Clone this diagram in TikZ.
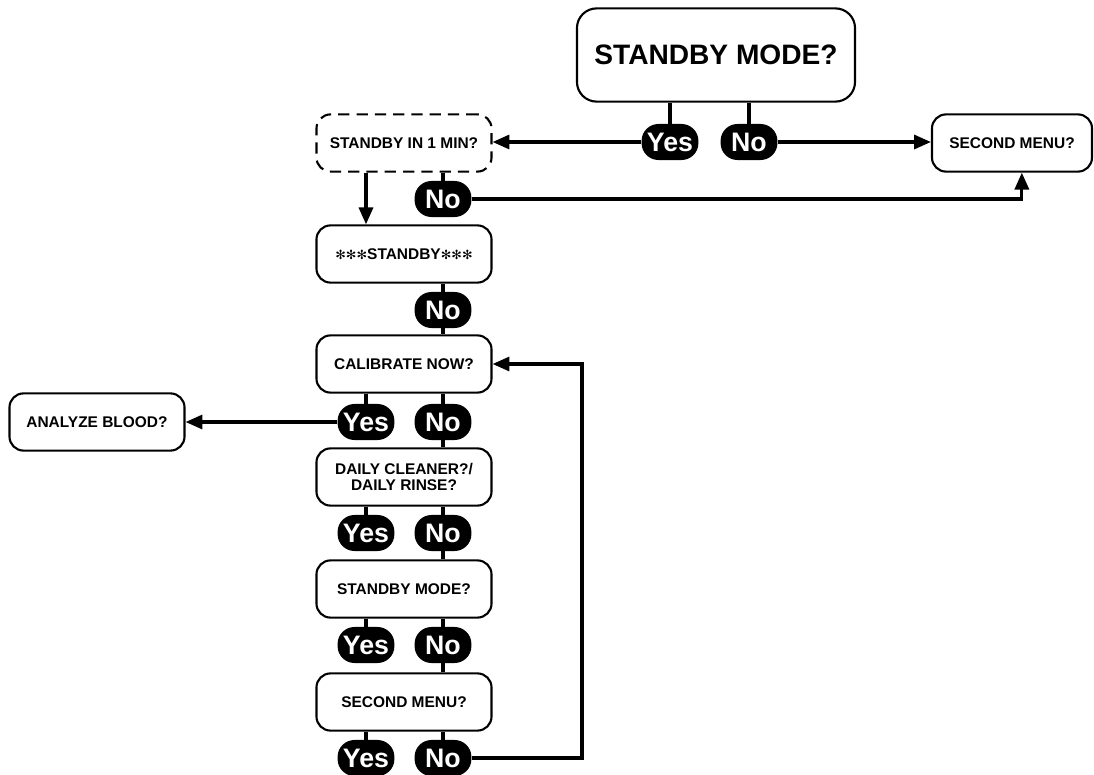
\documentclass[tikz,border=0pt]{standalone}
\usepackage{fontspec}
\setmainfont{Liberation Sans}
\newfontfamily\symfont{DejaVu Sans}
\usetikzlibrary{arrows.meta}

\newcommand{\stars}{{\symfont\fontsize{9}{9}\selectfont ✻✻✻}}

\tikzset{
  menubox/.style={draw,line width=1.5pt,rounded corners=10pt,fill=white,
    minimum width=4.375cm,minimum height=1.43cm,align=center,
    font=\fontsize{11}{12}\selectfont\bfseries},
  waitbox/.style={menubox,dashed,dash pattern=on 8pt off 5pt},
  pill/.style={fill=black,text=white,rounded corners=12pt,inner sep=1pt,
    minimum width=1.42cm,minimum height=0.9cm,
    font=\fontsize{19}{19}\selectfont\bfseries},
  link/.style={line width=2.2pt},
}

\begin{document}
\begin{tikzpicture}[x=0.025cm,y=-0.025cm,>={Triangle[length=12pt,width=10pt]}]
\useasboundingbox (0,0) rectangle (1094,775);
% main column
\node[menubox,font=\fontsize{20}{22}\selectfont\bfseries,minimum width=6.95cm,
  minimum height=2.33cm,rounded corners=14pt] (top) at (716,55) {STANDBY MODE?};
\node[waitbox] (wait) at (404,143) {STANDBY IN 1 MIN?};
\node[menubox,minimum width=4.0cm] (second) at (1012,143) {SECOND MENU?};
\node[menubox] (stby) at (404,254) {\stars STANDBY\stars};
\node[menubox] (calib) at (404,364) {CALIBRATE NOW?};
\node[menubox] (blood) at (97,422) {ANALYZE BLOOD?};
\node[menubox] (daily) at (404,477) {DAILY CLEANER?/\\[-1pt]DAILY RINSE?};
\node[menubox] (mode) at (404,589) {STANDBY MODE?};
\node[menubox] (menu) at (404,702) {SECOND MENU?};
\coordinate (loop) at (582,364);

% answers
\node[pill] (tyes) at (670,142) {Yes};
\node[pill] (tno) at (749,142) {No};
\node[pill] (wno) at (443,199) {No};
\node[pill] (sno) at (443,310) {No};
\node[pill] (cyes) at (366,422) {Yes};
\node[pill] (cno) at (443,422) {No};
\node[pill] (dyes) at (366,533) {Yes};
\node[pill] (dno) at (443,533) {No};
\node[pill] (myes) at (366,645) {Yes};
\node[pill] (mno) at (443,645) {No};
\node[pill] (uyes) at (366,758) {Yes};
\node[pill] (uno) at (443,758) {No};

% connectors
\draw[link] (top.south -| tyes) -- (tyes.north);
\draw[link] (top.south -| tno) -- (tno.north);
\draw[link,->] (tyes.west) -- (tyes.west -| wait.east);
\draw[link,->] (tno.east) -- (tno.east -| second.west);
\draw[link] (wait.south -| wno) -- (wno.north);
\draw[link,->] (wno.east) -| ([xshift=7pt]second.south);
\draw[link,->] (wait.south -| cyes) -- (stby.north -| cyes);
\draw[link] (stby.south -| sno) -- (sno.north);
\draw[link] (sno.south) -- (calib.north -| sno);
\draw[link] (calib.south -| cyes) -- (cyes.north);
\draw[link] (calib.south -| cno) -- (cno.north);
\draw[link,->] (cyes.west) -- (blood.east);
\draw[link] (cno.south) -- (daily.north -| cno);
\draw[link] (daily.south -| dyes) -- (dyes.north);
\draw[link] (daily.south -| dno) -- (dno.north);
\draw[link] (dno.south) -- (mode.north -| dno);
\draw[link] (mode.south -| myes) -- (myes.north);
\draw[link] (mode.south -| mno) -- (mno.north);
\draw[link] (mno.south) -- (menu.north -| mno);
\draw[link] (menu.south -| uyes) -- (uyes.north);
\draw[link] (menu.south -| uno) -- (uno.north);
\draw[link,->] (uno.east) -| (loop) -- (calib.east);
\end{tikzpicture}
\end{document}
